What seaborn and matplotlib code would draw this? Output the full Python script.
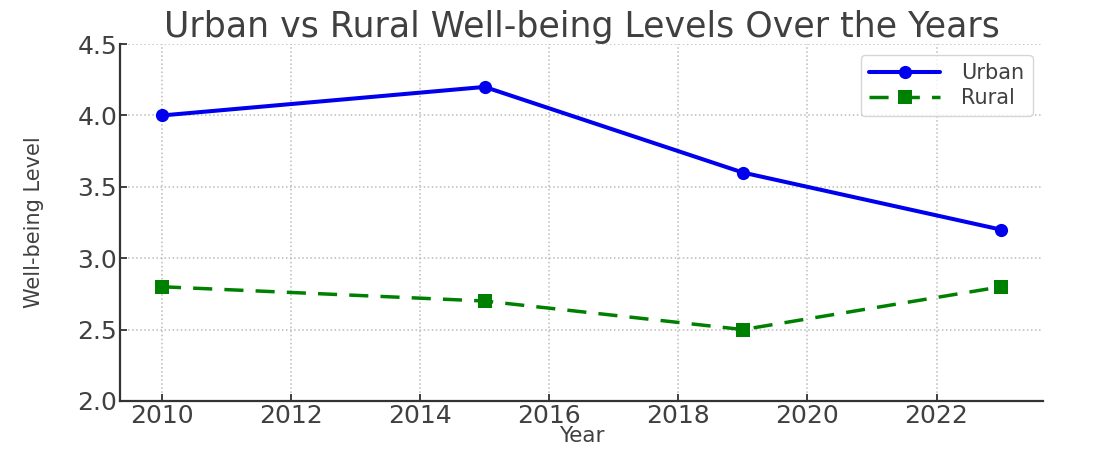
import matplotlib
matplotlib.use("Agg")
import matplotlib.pyplot as plt
import seaborn as sns
import pandas as pd

# Survey years and mean well-being scores
years = [2010, 2015, 2019, 2023]
urban = [4.0, 4.2, 3.6, 3.2]
rural = [2.8, 2.7, 2.5, 2.8]
x_ticks = [2010, 2012, 2014, 2016, 2018, 2020, 2022]
y_ticks = [2.0, 2.5, 3.0, 3.5, 4.0, 4.5]

sns.set_style("ticks")
plt.rcParams["font.family"] = ["DejaVu Sans"]

text_color = "#404040"

fig = plt.figure(figsize=(11.14, 4.5), dpi=100)
ax = fig.add_axes([0.1077, 0.109, 0.8286, 0.793])

df_u = pd.DataFrame({"Year": years, "Level": urban})
df_r = pd.DataFrame({"Year": years, "Level": rural})

sns.lineplot(data=df_u, x="Year", y="Level", ax=ax, color="#0000ee",
             marker="o", markersize=9.5, markeredgewidth=0, linewidth=2.9,
             label="Urban")
sns.lineplot(data=df_r, x="Year", y="Level", ax=ax, color="#008000",
             marker="s", markersize=9.5, markeredgewidth=0, linewidth=2.5,
             linestyle=(0, (5.5, 3.5)), label="Rural")

ax.set_ylim(2.0, 4.5)
ax.set_xticks(x_ticks)
ax.set_yticks(y_ticks)
ax.set_yticklabels([f"{v:.1f}" for v in y_ticks])

ax.grid(True, linestyle=":", color="#bbbbbb", linewidth=1.1)
sns.despine(ax=ax)
for s in ("left", "bottom"):
    ax.spines[s].set_linewidth(1.6)
    ax.spines[s].set_color("#333333")

ax.tick_params(axis="both", direction="in", length=5, width=1.3,
               colors="#333333", labelsize=18, labelcolor=text_color, pad=2)

ax.set_title("Urban vs Rural Well-being Levels Over the Years",
             fontsize=25, color=text_color, pad=3)
ax.set_xlabel("Year", fontsize=15.5, color=text_color, labelpad=-1)
ax.set_ylabel("Well-being Level", fontsize=15, color=text_color,
              labelpad=24)

leg = ax.legend(loc="upper right", fontsize=15, frameon=True,
                handlelength=3.4, labelspacing=0.25, borderaxespad=0.5,
                handletextpad=1.0)
for t in leg.get_texts():
    t.set_color(text_color)
leg.get_frame().set_edgecolor("#cccccc")

fig.savefig("out.png", dpi=100)
